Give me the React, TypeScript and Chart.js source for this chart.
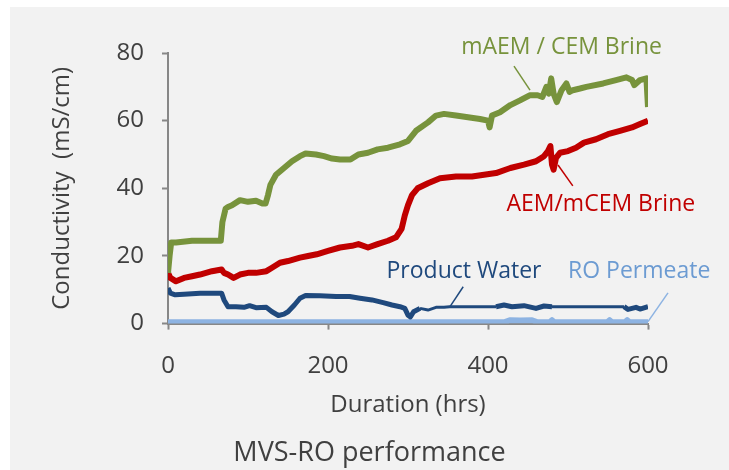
import React, { useEffect, useRef } from "react";
import { Chart, registerables } from "chart.js";

Chart.register(...registerables);

// ---- Data (hours, conductivity mS/cm) ----
const brineMaemHours = [0, 2, 4, 10, 30, 50, 66, 68, 72, 75, 80, 90, 100, 110, 118, 122, 125, 128, 135, 145, 155, 165, 172, 185, 195, 205, 215, 228, 238, 250, 262, 275, 290, 300, 310, 325, 335, 345, 360, 375, 390, 400, 402, 405, 415, 428, 440, 452, 462, 468, 473, 476, 479, 482, 486, 492, 498, 502, 506, 515, 523, 544, 560, 573, 580, 583, 590, 598, 600];
const brineMaemValues = [15, 20, 24, 24, 24.5, 24.5, 24.5, 30, 34, 34.5, 35, 36.5, 36, 36.3, 35.5, 35.5, 38, 41, 44, 46, 48, 49.5, 50.3, 50, 49.5, 48.8, 48.5, 48.5, 50, 50.5, 51.5, 52, 53, 54, 57, 59.5, 61.5, 62, 61.5, 61, 60.5, 60, 58, 61.5, 62.5, 64.6, 66, 67.5, 67.5, 67, 70, 68, 72.5, 68, 65.5, 69, 71, 68.5, 69, 69.5, 70, 71, 72, 72.8, 72, 70.5, 72, 72.5, 64];

const brineMcemHours = [0, 3, 10, 20, 30, 40, 55, 67, 70, 75, 82, 90, 100, 110, 123, 130, 140, 150, 165, 175, 186, 200, 215, 230, 238, 250, 262, 275, 285, 292, 296, 300, 305, 312, 325, 340, 360, 380, 395, 410, 428, 445, 460, 470, 475, 478, 480, 482, 485, 490, 500, 510, 520, 535, 550, 565, 580, 590, 600];
const brineMcemValues = [15, 13.5, 12.5, 13.5, 14, 14.5, 15.5, 16, 15, 14.5, 13.5, 14.5, 15, 15, 15.5, 16.5, 18, 18.5, 19.5, 20, 20.5, 21.5, 22.5, 23, 23.5, 22.5, 23.5, 24.5, 25.5, 28, 32, 35, 38, 40, 41.5, 43, 43.5, 43.5, 44, 44.5, 46, 47, 48, 49.5, 51, 52.5, 47, 45.5, 49, 50.5, 51, 52, 53.5, 54.5, 56, 57, 58, 59, 60];

const productHours = [0, 3, 9, 20, 40, 55, 67, 70, 75, 85, 95, 102, 110, 123, 130, 138, 145, 150, 158, 165, 172, 190, 210, 227, 240, 255, 269, 280, 290, 296, 300, 303, 307, 315, 325, 335, 345, 352, 380, 410, 420, 430, 445, 460, 470, 480, 500, 540, 570, 575, 585, 590, 600];
const productValues = [10.5, 9, 8.5, 8.7, 9, 9, 9, 7, 5, 5, 4.8, 5.3, 4.7, 4.8, 3.5, 2.4, 2.8, 3.5, 5.5, 7.5, 8.3, 8.2, 8, 8, 7.5, 7, 6.2, 5.5, 5, 4.5, 2.5, 2, 3.5, 4.5, 4, 4.8, 4.8, 5, 5, 5, 5.5, 5, 5.3, 4.5, 5.2, 5, 5, 5, 5, 4.2, 4.8, 4.3, 5];

const roHours = [0, 420, 428, 440, 455, 462, 477, 480, 483, 549, 552, 555, 571, 574, 577, 600];
const roValues = [0.4, 0.4, 1.0, 0.9, 1.0, 0.4, 0.4, 1.0, 0.4, 0.4, 1.0, 0.4, 0.4, 1.0, 0.4, 0.4];

const xTicks = [0, 200, 400, 600];
const yTicks = [0, 20, 40, 60, 80];

const seriesNames = ["mAEM / CEM Brine", "AEM/mCEM Brine", "Product Water", "RO Permeate"];
const seriesColors = ["#77933c", "#c00000", "#1f497d", "#8db3e2"];
const labelColors = ["#77933c", "#c00000", "#1f497d", "#6c9bd2"];

// annotation anchors in data units: [textX, textY, lineX1, lineY1, lineX2, lineY2]
const annotationAnchors = [
  [492, 81.7, 432.5, 76.1, 452.5, 69],
  [541, 35.1, 487.5, 46.9, 506, 40.7],
  [370, 15.3, 369, 10.9, 352.5, 5],
  [589, 15.3, 625, 9.1, 600, 0.6],
];

const FONT = "'Open Sans', 'Noto Sans', sans-serif";
const TEXT = "#404040";
const AXIS = "#878787";

function pts(xs: number[], ys: number[]) {
  return xs.map((x, i) => ({ x, y: ys[i] }));
}

const annotationPlugin = {
  id: "annot",
  afterDatasetsDraw(chart: any) {
    const { ctx, scales } = chart;
    const xs = scales.x;
    const ys = scales.y;
    ctx.save();
    annotationAnchors.forEach((a, i) => {
      ctx.strokeStyle = seriesColors[i];
      ctx.lineWidth = 1.5;
      ctx.beginPath();
      ctx.moveTo(xs.getPixelForValue(a[2]), ys.getPixelForValue(a[3]));
      ctx.lineTo(xs.getPixelForValue(a[4]), ys.getPixelForValue(a[5]));
      ctx.stroke();
      ctx.fillStyle = labelColors[i];
      ctx.font = `23px ${FONT}`;
      ctx.textAlign = "center";
      ctx.textBaseline = "middle";
      ctx.fillText(seriesNames[i], xs.getPixelForValue(a[0]), ys.getPixelForValue(a[1]));
    });
    ctx.restore();
  },
};

export default function App() {
  const ref = useRef<HTMLCanvasElement | null>(null);
  useEffect(() => {
    if (!ref.current) return;
    const thinRanges = [[315, 410], [480, 570]];
    const chart = new Chart(ref.current, {
      type: "line",
      data: {
        datasets: [
          { label: seriesNames[0], data: pts(brineMaemHours, brineMaemValues), borderColor: seriesColors[0], borderWidth: 6 },
          { label: seriesNames[1], data: pts(brineMcemHours, brineMcemValues), borderColor: seriesColors[1], borderWidth: 6 },
          {
            label: seriesNames[2],
            data: pts(productHours, productValues),
            borderColor: seriesColors[2],
            borderWidth: 5,
            segment: {
              borderWidth: (c: any) => {
                const x = c.p0.parsed.x;
                return thinRanges.some((r) => x >= r[0] && x < r[1]) ? 3 : 5;
              },
            },
          },
          { label: seriesNames[3], data: pts(roHours, roValues), borderColor: seriesColors[3], borderWidth: 6 },
        ],
      },
      options: {
        animation: false,
        responsive: false,
        layout: { padding: { top: 46, right: 0, left: 0, bottom: 0 } },
        elements: {
          point: { radius: 0 },
          line: { tension: 0, borderJoinStyle: "round", borderCapStyle: "butt", fill: false },
        },
        plugins: {
          legend: { display: false },
          tooltip: { enabled: false },
          title: {
            display: true,
            position: "bottom",
            text: "MVS-RO performance",
            color: TEXT,
            font: { family: FONT, size: 27, weight: "normal" },
            padding: { top: 0, bottom: 0 },
          },
        },
        scales: {
          x: {
            type: "linear",
            min: 0,
            max: 600,
            afterBuildTicks: (s: any) => {
              s.ticks = xTicks.map((v) => ({ value: v }));
            },
            afterFit: (s: any) => {
              s.height = 114;
            },
            ticks: { color: TEXT, font: { family: FONT, size: 24 }, padding: 22, maxRotation: 0 },
            grid: { drawOnChartArea: false, drawTicks: true, tickLength: 6, tickWidth: 2, tickColor: AXIS, color: AXIS },
            border: { display: true, color: AXIS, width: 2 },
            title: {
              display: true,
              text: "Duration (hrs)",
              color: TEXT,
              font: { family: FONT, size: 24 },
              padding: { top: 0, bottom: 18 },
            },
          },
          y: {
            type: "linear",
            min: 0,
            max: 80,
            afterBuildTicks: (s: any) => {
              s.ticks = yTicks.map((v) => ({ value: v }));
            },
            afterFit: (s: any) => {
              s.width = 158;
            },
            ticks: { color: TEXT, font: { family: FONT, size: 24 }, padding: 18 },
            grid: { drawOnChartArea: false, drawTicks: true, tickLength: 6, tickWidth: 2, tickColor: AXIS, color: AXIS },
            border: { display: true, color: AXIS, width: 2 },
            title: {
              display: true,
              text: "Conductivity  (mS/cm)",
              color: TEXT,
              font: { family: FONT, size: 24 },
              padding: { top: 38, bottom: 0 },
            },
          },
          spacer: {
            type: "linear",
            position: "right",
            display: true,
            afterFit: (s: any) => {
              s.width = 81;
            },
            ticks: { display: false },
            grid: { display: false, drawTicks: false },
            border: { display: false },
            title: { display: false },
          },
        },
      },
      plugins: [annotationPlugin],
    } as any);
    return () => chart.destroy();
  }, []);

  return (
    <div
      style={{
        position: "absolute",
        left: 10,
        top: 7,
        width: 719,
        height: 463,
        background: "#f2f2f2",
      }}
    >
      <canvas ref={ref} width={719} height={463} style={{ display: "block", width: 719, height: 463 }} />
    </div>
  );
}
